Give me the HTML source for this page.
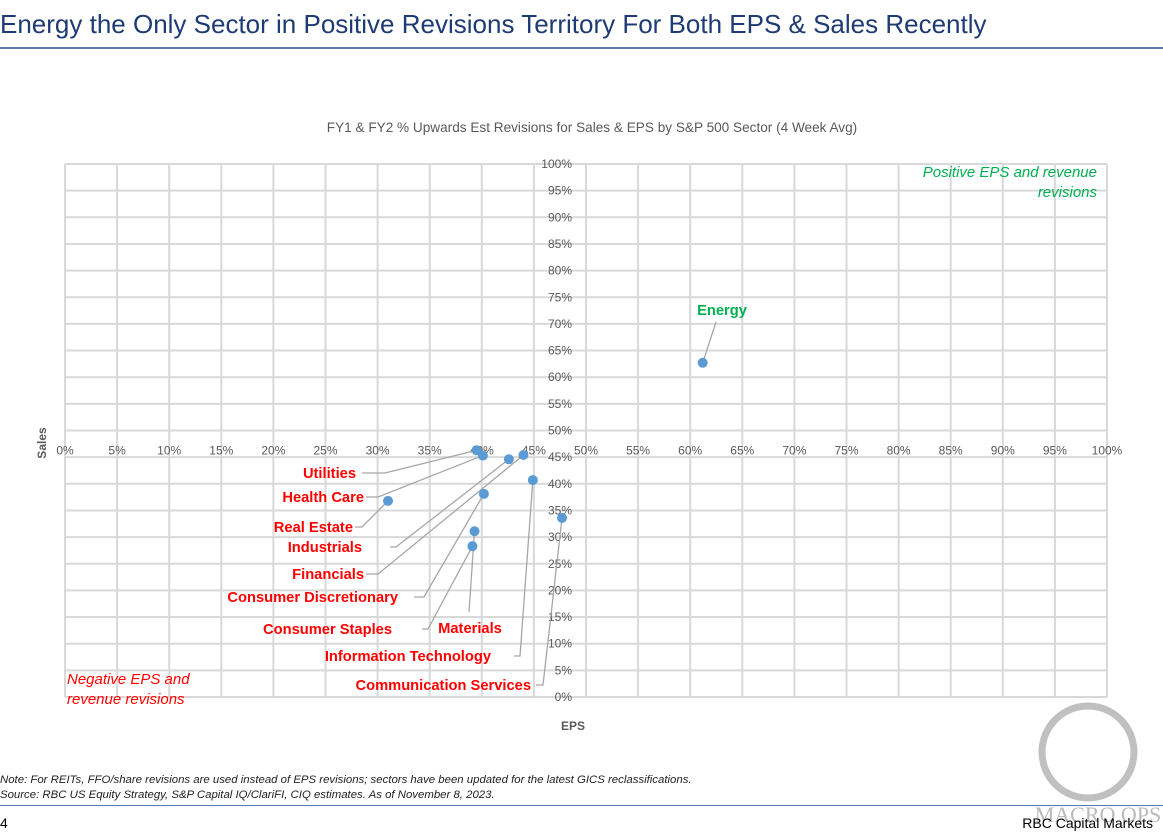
<!DOCTYPE html>
<html><head><meta charset="utf-8"><style>
body{margin:0;width:1163px;height:835px;background:#fff;overflow:hidden;font-family:"Liberation Sans",sans-serif;position:relative}
.abs{position:absolute}
</style></head><body>
<div class="abs" style="left:0;top:9px;font-size:26px;color:#1f3b73;white-space:nowrap">Energy the Only Sector in Positive Revisions Territory For Both EPS &amp; Sales Recently</div>
<div class="abs" style="left:0;top:47px;width:1163px;height:2px;background:#5a7aa8"></div>
<svg class="abs" style="left:0;top:0" width="1163" height="835" id="chart"></svg>
<div class="abs" style="left:0;top:773px;font-size:11.4px;font-style:italic;color:#222;line-height:15px;white-space:nowrap">Note: For REITs, FFO/share revisions are used instead of EPS revisions; sectors have been updated for the latest GICS reclassifications.<br>Source: RBC US Equity Strategy, S&amp;P Capital IQ/ClariFI, CIQ estimates. As of November 8, 2023.</div>
<div class="abs" style="left:0;top:805px;width:1163px;height:1px;background:#5a7aa8"></div>
<div class="abs" style="left:0;top:815px;font-size:14px;color:#000">4</div>
<div class="abs" style="right:10px;top:815px;font-size:14px;color:#000">RBC Capital Markets</div>
<script>
const sectors=["Utilities","Health Care","Real Estate","Industrials","Financials","Consumer Discretionary","Consumer Staples","Materials","Information Technology","Communication Services","Energy"];
const epsValues=[39.5,40.1,31.0,42.6,44.0,40.2,39.1,39.3,44.9,47.7,61.2];
const salesValues=[46.3,45.3,36.8,44.6,45.4,38.1,28.3,31.1,40.7,33.6,62.7];
const tickValues=[0,5,10,15,20,25,30,35,40,45,50,55,60,65,70,75,80,85,90,95,100];
const labelPos=[[356,473,'end'],[364,497,'end'],[353,527,'end'],[362,547,'end'],[364,574,'end'],[398,597,'end'],[392,629,'end'],[470,628,'middle'],[491,656,'end'],[531,685,'end'],[722,310,'middle']];
const leaderStart=[[362,473,385,473],[366,497,378,497],[355,527,362,527],[390,547,396,547],[366,574,378,574],[414,597,424,597],[422,629,428,629],[469,612,469,612],[514,656,520,656],[536,685,543,685],[716,322,716,322]];
const svg=document.getElementById('chart');const NS='http://www.w3.org/2000/svg';
const X0=65,X1=1107,Y0=697,Y1=164;
const xs=v=>X0+(X1-X0)*v/100, ys=v=>Y0-(Y0-Y1)*v/100;
function el(t,a,txt){const e=document.createElementNS(NS,t);for(const k in a)e.setAttribute(k,a[k]);if(txt!=null)e.textContent=txt;svg.appendChild(e);return e;}
tickValues.forEach(v=>{
 const g=el('line',{x1:xs(v),x2:xs(v),y1:Y1,y2:Y0,stroke:'#d9d9d9','stroke-width':2});
 
 
 const h=el('line',{x1:X0,x2:X1,y1:ys(v),y2:ys(v),stroke:'#d9d9d9','stroke-width':2});
 
 
});
tickValues.forEach(v=>{
 const t=el('text',{x:xs(v),y:ys(50)+24,'font-size':12,fill:'#595959','text-anchor':'middle'},v+'%');
 
 
 const u=el('text',{x:xs(50)-14,y:ys(v)+4,'font-size':12,fill:'#595959','text-anchor':'end'},v+'%');
 
 
});
let t=el('text',{x:592,y:132,'font-size':13.6,fill:'#595959','text-anchor':'middle'},'FY1 & FY2 % Upwards Est Revisions for Sales & EPS by S&P 500 Sector (4 Week Avg)');

t=el('text',{x:573,y:730,'font-size':12,'font-weight':'bold',fill:'#595959','text-anchor':'middle'},'EPS');

t=el('text',{x:46,y:443,'font-size':12,'font-weight':'bold',fill:'#595959','text-anchor':'middle',transform:'rotate(-90 46 443)'},'Sales');

t=el('text',{x:1097,y:177,'font-size':15,'font-style':'italic',fill:'#00b050','text-anchor':'end'},'Positive EPS and revenue');

t=el('text',{x:1097,y:197,'font-size':15,'font-style':'italic',fill:'#00b050','text-anchor':'end'},'revisions');

t=el('text',{x:67,y:684,'font-size':15,'font-style':'italic',fill:'#ff0000'},'Negative EPS and');

t=el('text',{x:67,y:704,'font-size':15,'font-style':'italic',fill:'#ff0000'},'revenue revisions');

sectors.forEach((s,i)=>{
 const px=xs(epsValues[i]),py=ys(salesValues[i]);const L=leaderStart[i];
 const p=el('polyline',{points:`${L[0]},${L[1]} ${L[2]},${L[3]} ${px},${py}`,fill:'none',stroke:'#a6a6a6','stroke-width':1.3});
 
 
});
sectors.forEach((s,i)=>{
 const c=el('circle',{cx:xs(epsValues[i]),cy:ys(salesValues[i]),r:5,fill:'#5b9bd5'});
 
 
 const P=labelPos[i];
 const l=el('text',{x:P[0],y:P[1]+5,'font-size':14.7,'font-weight':'bold',fill:i==10?'#00b050':'#ff0000','text-anchor':P[2]},s);
 
 
});
const ring=el('circle',{cx:1088,cy:752,r:46,fill:'none',stroke:'#b0b0b0','stroke-width':7,opacity:0.8});


const wm=el('text',{x:1098,y:822,'font-size':22,'font-family':'Liberation Serif',fill:'#aaa','text-anchor':'middle',opacity:0.8},'MACRO OPS');


</script>
</body></html>
